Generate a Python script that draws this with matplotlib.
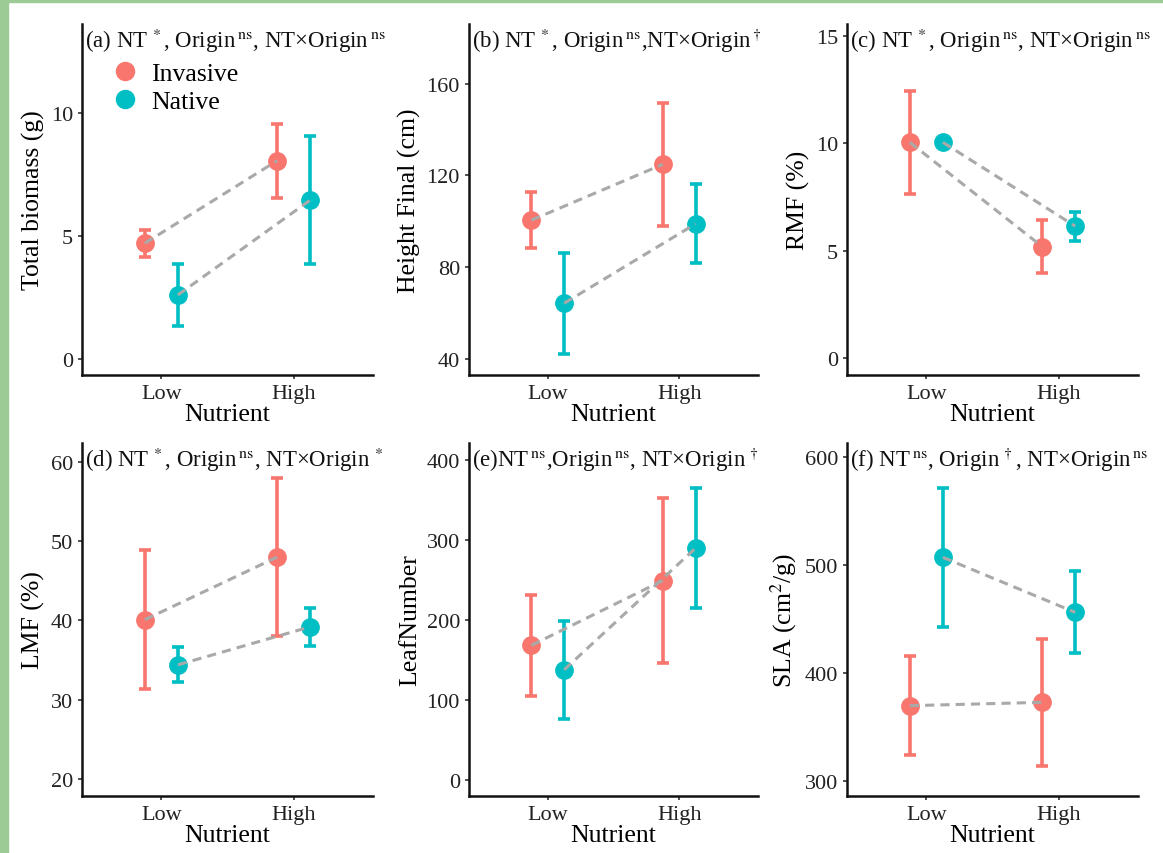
import numpy as np
import matplotlib
matplotlib.use("Agg")
import matplotlib.pyplot as plt
from matplotlib.lines import Line2D
from matplotlib.patches import Rectangle

plt.rcParams['font.family'] = ['Liberation Serif', 'DejaVu Serif']
plt.rcParams['mathtext.fontset'] = 'stix'

# nutrient levels
levels = ['Low', 'High']
origins = ['Invasive', 'Native']

# means and error bars, order = [Low, High]
biomass_inv = [4.7, 8.05]
biomass_inv_err = [0.55, 1.5]
biomass_nat = [2.6, 6.45]
biomass_nat_err = [1.25, 2.6]

height_inv = [100.5, 124.8]
height_inv_err = [12.3, 26.8]
height_nat = [64.3, 98.9]
height_nat_err = [22.0, 17.2]

rmf_inv = [10.05, 5.2]
rmf_inv_err = [2.4, 1.24]
rmf_nat = [10.05, 6.15]
rmf_nat_err = [0.1, 0.67]

lmf_inv = [40.1, 48.0]
lmf_inv_err = [8.8, 10.0]
lmf_nat = [34.4, 39.2]
lmf_nat_err = [2.2, 2.4]

leaf_inv = [168.0, 249.0]
leaf_inv_err = [63.0, 103.0]
leaf_nat = [137.5, 289.6]
leaf_nat_err = [61.0, 75.0]

sla_inv = [369.6, 372.7]
sla_inv_err = [46.0, 59.0]
sla_nat = [507.2, 456.2]
sla_nat_err = [64.5, 38.0]

titles = [r'(a) NT$\,^*$, Origin$\,^{\rm ns}$, NT×Origin$\,^{\rm ns}$',
          r'(b) NT$\,^*$, Origin$\,^{\rm ns}$,NT×Origin$^\dagger$',
          r'(c) NT$\,^*$, Origin$\,^{\rm ns}$, NT×Origin$\,^{\rm ns}$',
          r'(d) NT$\,^*$, Origin$\,^{\rm ns}$, NT×Origin$\,^*$',
          r'(e)NT$\,^{\rm ns}$,Origin$\,^{\rm ns}$, NT×Origin$\,^\dagger$',
          r'(f) NT$\,^{\rm ns}$, Origin$\,^\dagger$, NT×Origin$\,^{\rm ns}$']
ylabels = ['Total biomass (g)', 'Height Final (cm)', 'RMF (%)',
           'LMF (%)', 'LeafNumber', r'SLA (cm$^2$/g)']
yticks = [[0, 5, 10], [40, 80, 120, 160], [0, 5, 10, 15],
          [20, 30, 40, 50, 60], [0, 100, 200, 300, 400], [300, 400, 500, 600]]
ylims = [(-0.65, 13.6), (33, 186), (-0.78, 15.56),
         (17.85, 62.4), (-20.4, 421), (285.8, 613.3)]

panels = [(biomass_inv, biomass_inv_err, biomass_nat, biomass_nat_err),
          (height_inv, height_inv_err, height_nat, height_nat_err),
          (rmf_inv, rmf_inv_err, rmf_nat, rmf_nat_err),
          (lmf_inv, lmf_inv_err, lmf_nat, lmf_nat_err),
          (leaf_inv, leaf_inv_err, leaf_nat, leaf_nat_err),
          (sla_inv, sla_inv_err, sla_nat, sla_nat_err)]

col_inv = '#F8766D'
col_nat = '#00BFC4'
dodge = 0.125

W, H = 1163, 854
fig = plt.figure(figsize=(W / 100, H / 100), dpi=100)

# green page border
fig.patches.append(Rectangle((0, 0), 8 / W, 1, transform=fig.transFigure,
                             color='#9dcb95', zorder=-10))
fig.patches.append(Rectangle((0, 1 - 3 / H), 1, 3 / H, transform=fig.transFigure,
                             color='#9dcb95', zorder=-10))

lefts = [82, 469, 847]
widths = [291, 289, 291]
tops = [25, 444]
bottoms = [376, 797]

x = np.arange(1, len(levels) + 1)
axes = []
for i, (inv, inv_err, nat, nat_err) in enumerate(panels):
    r, c = divmod(i, 3)
    l = lefts[c] / W
    b = 1 - bottoms[r] / H
    ax = fig.add_axes([l, b, widths[c] / W, (bottoms[r] - tops[r]) / H])
    axes.append(ax)

    for vals, errs, col, off in [(inv, inv_err, col_inv, -dodge),
                                 (nat, nat_err, col_nat, dodge)]:
        ax.errorbar(x + off, vals, yerr=errs, fmt='o', color=col, ms=12.5,
                    elinewidth=2.6, capsize=4.5, capthick=2.6, zorder=3)
        ax.plot(x + off, vals, ls=(0, (3, 2)), color='#a9a9a9', lw=2.2, zorder=4)

    ax.set_xlim(0.4, 2.6)
    ax.set_ylim(*ylims[i])
    ax.set_xticks(x)
    ax.set_xticklabels(levels, fontsize=16)
    ax.set_yticks(yticks[i])
    ax.tick_params(axis='y', labelsize=16)
    ax.tick_params(direction='out', length=3, width=1.2, color='#333333',
                   labelcolor='#222222')
    for s in ['top', 'right']:
        ax.spines[s].set_visible(False)
    for s in ['left', 'bottom']:
        ax.spines[s].set_linewidth(1.8)
        ax.spines[s].set_color('#111111')
    ax.set_xlabel('Nutrient', fontsize=18.5, labelpad=0)
    ax.set_ylabel(ylabels[i], fontsize=18.5, labelpad=4)
    ax.text(0.012, 0.955, titles[i], transform=ax.transAxes, fontsize=16.5,
            ha='left', va='center', color='#111111')

handles = [Line2D([], [], marker='o', ms=13, color=col_inv, ls='none'),
           Line2D([], [], marker='o', ms=13, color=col_nat, ls='none')]
axes[0].legend(handles, origins, loc='upper left', bbox_to_anchor=(0.06, 0.92),
               frameon=False, fontsize=18.5, handletextpad=0.4, labelspacing=0.2,
               borderaxespad=0, handlelength=1.2)

fig.savefig('out.png', dpi=100)
